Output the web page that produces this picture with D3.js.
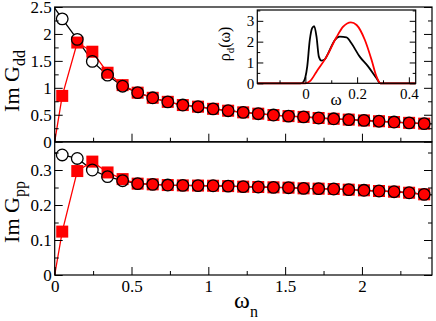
<!DOCTYPE html>
<html>
<head>
<meta charset="utf-8">
<script src="https://cdn.jsdelivr.net/npm/d3@7"></script>
<style>
  body { margin: 0; background: #fff; }
  svg { display: block; }
  text { font-family: "Liberation Serif", "DejaVu Serif", serif; }
</style>
</head>
<body>
<svg id="chart" width="436" height="321"></svg>
<script>
// Matsubara frequencies (beta = 64)
const omegaN = [0.049, 0.147, 0.245, 0.344, 0.442, 0.540, 0.638, 0.736, 0.834, 0.933, 1.031, 1.129,
  1.227, 1.325, 1.424, 1.522, 1.620, 1.718, 1.816, 1.914, 2.013, 2.111, 2.209, 2.307, 2.405];

// Im G_dd : black circles, red squares
const gddBlack = [2.28, 1.90, 1.49, 1.235, 1.03, 0.91, 0.815, 0.74, 0.68, 0.65, 0.61, 0.575,
  0.545, 0.52, 0.495, 0.475, 0.46, 0.44, 0.425, 0.41, 0.395, 0.38, 0.365, 0.35, 0.335];
const gddRed = [0.85, 1.84, 1.67, 1.28, 1.05, 0.91, 0.815, 0.74, 0.68, 0.65, 0.61, 0.575,
  0.545, 0.52, 0.495, 0.475, 0.46, 0.44, 0.425, 0.41, 0.395, 0.38, 0.365, 0.35, 0.335];

// Im G_pp
const gppBlack = [0.343, 0.333, 0.300, 0.281, 0.2695, 0.261, 0.259, 0.257, 0.256, 0.2555, 0.255, 0.254,
  0.2524, 0.2514, 0.2505, 0.2495, 0.2476, 0.2467, 0.2457, 0.2438, 0.242, 0.240, 0.238, 0.235, 0.2305];
const gppRed = [0.124, 0.297, 0.324, 0.293, 0.274, 0.261, 0.259, 0.257, 0.256, 0.2555, 0.255, 0.254,
  0.2524, 0.2514, 0.2505, 0.2495, 0.2476, 0.2467, 0.2457, 0.2438, 0.242, 0.240, 0.238, 0.235, 0.2305];

// end points of the continuous black curves
const gddLineStart = [0, 2.48], gddLineEnd = [2.456, 0.33];
const gppLineStart = [0, 0.349], gppLineEnd = [2.456, 0.229];

// inset: spectral function rho_d(omega)
const rhoBlackW = [-0.186, -0.02, -0.011, 0.0, 0.007, 0.017, 0.026, 0.034, 0.043, 0.052, 0.062, 0.075,
  0.088, 0.114, 0.133, 0.159, 0.178, 0.21, 0.243, 0.275, 0.29, 0.4265];
const rhoBlackV = [0, 0, 0.03, 0.3, 0.8, 2.08, 2.65, 2.75, 2.24, 1.28, 1.09, 1.15,
  1.44, 2.08, 2.24, 2.21, 1.92, 1.28, 0.8, 0.24, 0, 0];
const rhoRedW = [-0.186, 0.0, 0.02, 0.043, 0.082, 0.12, 0.146, 0.176, 0.198, 0.23, 0.256, 0.275, 0.29, 0.4265];
const rhoRedV = [0, 0, 0.13, 0.56, 1.28, 2.21, 2.72, 2.93, 2.8, 2.08, 1.12, 0.32, 0, 0];

const xTicks = [0, 0.5, 1, 1.5, 2];
const xMinorTicks = [0.25, 0.75, 1.25, 1.75, 2.25];
const gddTicks = [0, 0.5, 1, 1.5, 2, 2.5];
const gddMinorTicks = [0.25, 0.75, 1.25, 1.75, 2.25];
const gppTicks = [0, 0.1, 0.2, 0.3];
const gppMinorTicks = [0.05, 0.15, 0.25, 0.35];
const insetXTicks = [0, 0.2, 0.4];
const insetXMinorTicks = [-0.1, 0.1, 0.3];
const insetYTicks = [0, 1, 2, 3];
const insetYMinorTicks = [0.5, 1.5, 2.5, 3.5];

const serif = '"Liberation Serif", "DejaVu Serif", serif';
const svg = d3.select("#chart");
const fmt = d => String(d);

const x = d3.scaleLinear().domain([0, 2.456]).range([54.7, 432]);
const yTop = d3.scaleLinear().domain([0, 2.5]).range([141.7, 7]);
const yBot = d3.scaleLinear().domain([0, 0.38]).range([275, 142]);

function clean(a) {
  a.attr("font-family", serif).attr("font-size", null);
  a.select(".domain").remove();
}

function frame(g, xs, ys, o) {
  const [x0, x1] = xs.range();
  const [yb, yt] = ys.range();
  g.append("rect").attr("x", x0).attr("y", yt).attr("width", x1 - x0).attr("height", yb - yt)
    .attr("fill", "none").attr("stroke", "#000").attr("stroke-width", 1.2);
  g.append("g").attr("transform", `translate(${x0},0)`)
    .call(d3.axisLeft(ys).tickValues(o.yMajor).tickFormat(fmt).tickSizeInner(-o.tk).tickSizeOuter(0).tickPadding(o.padY))
    .call(clean);
  g.append("g").attr("transform", `translate(${x0},0)`)
    .call(d3.axisLeft(ys).tickValues(o.yMinor).tickFormat("").tickSizeInner(-o.tk / 2).tickSizeOuter(0))
    .call(clean);
  g.append("g").attr("transform", `translate(${x1},0)`)
    .call(d3.axisRight(ys).tickValues(o.yMajor).tickFormat("").tickSizeInner(-o.tk).tickSizeOuter(0))
    .call(clean);
  g.append("g").attr("transform", `translate(${x1},0)`)
    .call(d3.axisRight(ys).tickValues(o.yMinor).tickFormat("").tickSizeInner(-o.tk / 2).tickSizeOuter(0))
    .call(clean);
  g.append("g").attr("transform", `translate(0,${yb})`)
    .call(d3.axisBottom(xs).tickValues(o.xMajor).tickFormat(o.showX ? fmt : "").tickSizeInner(-o.tk).tickSizeOuter(0).tickPadding(o.padX))
    .call(clean);
  g.append("g").attr("transform", `translate(0,${yb})`)
    .call(d3.axisBottom(xs).tickValues(o.xMinor).tickFormat("").tickSizeInner(-o.tk / 2).tickSizeOuter(0))
    .call(clean);
  g.selectAll(".tick text").attr("font-size", o.fs).attr("font-family", serif).attr("fill", "#000");
  g.selectAll(".tick line").attr("stroke", "#000").attr("stroke-width", 1);
}

function panel(ys, black, red, lineStart, lineEnd) {
  const g = svg.append("g");
  const line = d3.line().x(d => x(d[0])).y(d => ys(d[1]));
  const blackPts = [lineStart, ...omegaN.map((w, i) => [w, black[i]]), lineEnd];
  const redPts = [[0, 0], ...omegaN.map((w, i) => [w, red[i]])];
  g.append("path").attr("d", line(blackPts)).attr("fill", "none").attr("stroke", "#000").attr("stroke-width", 1.3);
  g.selectAll(".bg").data(omegaN).join("circle")
    .attr("cx", d => x(d)).attr("cy", (d, i) => ys(black[i])).attr("r", 5.8).attr("fill", "#fff");
  g.append("path").attr("d", line(redPts)).attr("fill", "none").attr("stroke", "#f00").attr("stroke-width", 1.3);
  g.selectAll(".sq").data(omegaN).join("rect")
    .attr("x", d => x(d) - 6).attr("y", (d, i) => ys(red[i]) - 6)
    .attr("width", 12).attr("height", 12).attr("fill", "#f00");
  g.selectAll(".ci").data(omegaN).join("circle")
    .attr("cx", d => x(d)).attr("cy", (d, i) => ys(black[i])).attr("r", 5.8)
    .attr("fill", "none").attr("stroke", "#000").attr("stroke-width", 1.3);
}

panel(yTop, gddBlack, gddRed, gddLineStart, gddLineEnd);
panel(yBot, gppBlack, gppRed, gppLineStart, gppLineEnd);

frame(svg.append("g"), x, yTop, { yMajor: gddTicks, yMinor: gddMinorTicks, xMajor: xTicks, xMinor: xMinorTicks,
  showX: false, fs: 17, tk: 8, padX: 5, padY: 3 });
frame(svg.append("g"), x, yBot, { yMajor: gppTicks, yMinor: gppMinorTicks, xMajor: xTicks, xMinor: xMinorTicks,
  showX: true, fs: 17, tk: 8, padX: 5, padY: 3 });

// axis labels
function ylab(txt, sub, cx, cy) {
  const t = svg.append("text").attr("transform", `translate(${cx},${cy}) rotate(-90)`)
    .attr("text-anchor", "middle").attr("font-size", 22);
  t.append("tspan").text(txt);
  t.append("tspan").attr("font-size", 16).attr("dy", 6).text(sub);
}
ylab("Im G", "dd", 19, 81);
ylab("Im G", "pp", 19, 212);

const xl = svg.append("text").attr("x", 246).attr("y", 308).attr("text-anchor", "middle").attr("font-size", 24);
xl.append("tspan").text("ω");
xl.append("tspan").attr("font-size", 16).attr("dy", 9).text("n");

// inset
const xi = d3.scaleLinear().domain([-0.186, 0.4265]).range([257.3, 415.7]);
const yi = d3.scaleLinear().domain([0, 3.52]).range([83.3, 10]);
const inset = svg.append("g");
inset.append("rect").attr("x", 257.3).attr("y", 10).attr("width", 415.7 - 257.3).attr("height", 73.3).attr("fill", "#fff");
const iline = d3.line().x(d => xi(d[0])).y(d => yi(d[1])).curve(d3.curveMonotoneX);
inset.append("path").attr("d", iline(rhoBlackW.map((w, i) => [w, rhoBlackV[i]])))
  .attr("fill", "none").attr("stroke", "#000").attr("stroke-width", 1.8);
inset.append("path").attr("d", iline(rhoRedW.map((w, i) => [w, rhoRedV[i]])))
  .attr("fill", "none").attr("stroke", "#f00").attr("stroke-width", 1.8);
frame(svg.append("g"), xi, yi, { yMajor: insetYTicks, yMinor: insetYMinorTicks, xMajor: insetXTicks,
  xMinor: insetXMinorTicks, showX: true, fs: 15, tk: 6, padX: 5, padY: 3 });

const il = svg.append("text").attr("transform", "translate(230,44) rotate(-90)")
  .attr("text-anchor", "middle").attr("font-size", 16);
il.append("tspan").text("ρ");
il.append("tspan").attr("font-size", 11).attr("dy", 4).text("d");
il.append("tspan").attr("dy", -4).text("(ω)");
svg.append("text").attr("x", 336).attr("y", 105).attr("text-anchor", "middle").attr("font-size", 17).text("ω");
</script>
</body>
</html>
